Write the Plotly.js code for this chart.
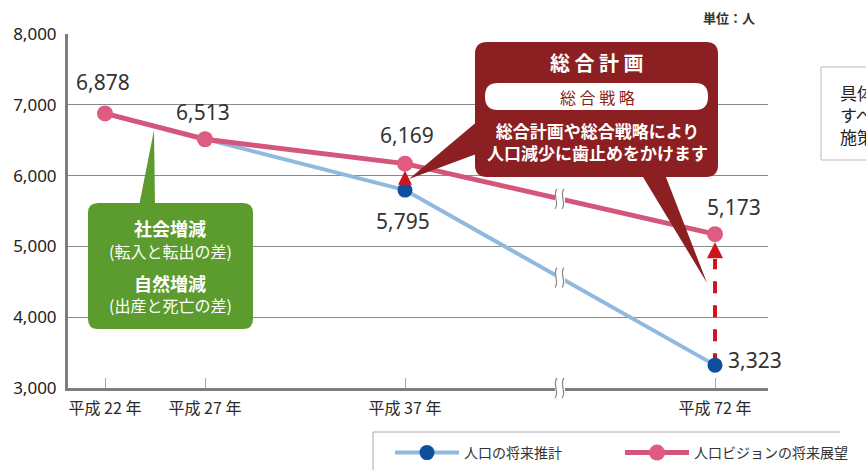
<!DOCTYPE html>
<html><head><meta charset="utf-8">
<script src="https://cdn.plot.ly/plotly-3.0.1.min.js"></script>
<style>html,body{margin:0;padding:0;background:#fff;}#chart{width:866px;height:470px;}</style>
</head><body><div id="chart"></div>
<script>
// ---- data ----
const years = [22, 27, 37, 72];
const tickLabels = ['平成 22 年', '平成 27 年', '平成 37 年', '平成 72 年'];
const projection = [6878, 6513, 5795, 3323];   // 人口の将来推計
const vision = [6878, 6513, 6169, 5173];       // 人口ビジョンの将来展望
const seriesNames = ['人口の将来推計', '人口ビジョンの将来展望'];
const yTicks = [3000, 4000, 5000, 6000, 7000, 8000];
const unitLabel = '単位：人';

// ---- broken x axis mapping ----
const BREAK_FROM = 37, COMPRESS = 15.5 / 35;
const toAxis = y => y <= BREAK_FROM ? y : BREAK_FROM + (y - BREAK_FROM) * COMPRESS;
const xs = years.map(toAxis);
const breakX = (xs[2] + xs[3]) / 2;
const XR = [20.15, 55.15], YR = [3000, 8000];

// pixel helpers for decorations (plot area px)
const L = 68, R = 768, T = 34, B = 388;
const fx = p => (p - L) / (R - L);
const fy = p => (B - p) / (B - T);
const P = (x, y) => fx(x).toFixed(5) + ',' + fy(y).toFixed(5);
function rrect(x0, y0, x1, y1, r) {
  return `M${P(x0 + r, y0)} L${P(x1 - r, y0)} Q${P(x1, y0)} ${P(x1, y0 + r)} L${P(x1, y1 - r)} Q${P(x1, y1)} ${P(x1 - r, y1)} L${P(x0 + r, y1)} Q${P(x0, y1)} ${P(x0, y1 - r)} L${P(x0, y0 + r)} Q${P(x0, y0)} ${P(x0 + r, y0)} Z`;
}
const interp = (arr, xv) => { const t = (xv - xs[2]) / (xs[3] - xs[2]); return arr[2] + (arr[3] - arr[2]) * t; };

const JP = '"Noto Sans CJK JP", "Noto Sans", sans-serif';
const NUM = '"Noto Sans", "DejaVu Sans", sans-serif';
const BLUE_LINE = '#8fb9df', BLUE_MK = '#0c4f9c', PINK_LINE = '#d4567a', PINK_MK = '#df5b82';
const GREEN = '#5c9b2e', DRED = '#8b1f22', RED = '#d0141c';

const traces = [
  { x: xs, y: projection, name: seriesNames[0], type: 'scatter', mode: 'lines+markers',
    line: { color: BLUE_LINE, width: 4 }, marker: { color: BLUE_MK, size: 15 }, hoverinfo: 'skip' },
  { x: xs, y: vision, name: seriesNames[1], type: 'scatter', mode: 'lines+markers',
    line: { color: PINK_LINE, width: 5 }, marker: { color: PINK_MK, size: 16 }, hoverinfo: 'skip' }
];

const fmt = v => v.toLocaleString('en-US');
const annotations = [];
function txt(x, y, text, size, color, extra) {
  annotations.push(Object.assign({ xref: 'paper', yref: 'paper', x: fx(x), y: fy(y), xanchor: 'center', yanchor: 'middle',
    text, showarrow: false, font: { family: JP, size, color } }, extra || {}));
}
// value labels
const labelSpec = [
  { s: 1, i: 0, dx: -2, dy: 31 }, { s: 1, i: 1, dx: -2, dy: 27 }, { s: 1, i: 2, dx: 2, dy: 29 },
  { s: 0, i: 2, dx: -2, dy: -31 }, { s: 1, i: 3, dx: 19, dy: 27 }
];
labelSpec.forEach(o => {
  const arr = o.s ? vision : projection;
  annotations.push({ x: xs[o.i], y: arr[o.i], xref: 'x', yref: 'y', text: fmt(arr[o.i]), showarrow: false,
    xanchor: 'center', yanchor: 'middle', xshift: o.dx, yshift: o.dy, font: { family: NUM, size: 21, color: '#333' } });
});
annotations.push({ x: xs[3], y: projection[3], xref: 'x', yref: 'y', text: fmt(projection[3]), showarrow: false,
  xanchor: 'left', yanchor: 'middle', xshift: 11, yshift: 5, font: { family: NUM, size: 21, color: '#333' } });

// unit label
txt(757, 17, '<b>' + unitLabel + '</b>', 13, '#333', { xanchor: 'right' });

// green callout texts
txt(170, 228, '<b>社会増減</b>', 18, '#fff');
txt(170, 251, '(転入と転出の差)', 16, '#fff');
txt(170, 283, '<b>自然増減</b>', 18, '#fff');
txt(170, 305, '(出産と死亡の差)', 16, '#fff');

// dark red callout texts
txt(597, 63, '<b>総 合 計 画</b>', 20, '#fff');
txt(597, 97, '総 合 戦 略', 16, DRED);
txt(597, 141, '<b>総合計画や総合戦略により<br>人口減少に歯止めをかけます</b>', 17, '#fff');

// right clipped box text
txt(838, 115, '具体的な<br>すべての<br>施策', 17, '#222', { xanchor: 'left', align: 'left' });

// red arrows
annotations.push({ x: xs[3], y: vision[3], xref: 'x', yref: 'y', ax: 0, ay: 24, axref: 'pixel', ayref: 'pixel',
  text: '', showarrow: true, arrowhead: 2, arrowsize: 0.8, arrowwidth: 4, arrowcolor: RED, standoff: 8 });
annotations.push({ x: xs[2], y: vision[2], xref: 'x', yref: 'y', ax: 0, ay: 22, axref: 'pixel', ayref: 'pixel',
  text: '', showarrow: true, arrowhead: 2, arrowsize: 0.8, arrowwidth: 3.5, arrowcolor: RED, standoff: 7 });

// break mark path (pixel offsets)
const gapPath = 'M -5 -10 L 5 -10 L 5 10 L -5 10 Z';
const sPath = 'M -5 -10 C 0 -4, -8 4, -3 10 M 2 -10 C 7 -4, -1 4, 4 10';
const shapes = [];
function breakMark(xref, yref, xa, ya) {
  shapes.push({ type: 'path', xref, yref, xsizemode: 'pixel', ysizemode: 'pixel', xanchor: xa, yanchor: ya,
    path: gapPath, fillcolor: '#fff', line: { width: 0 }, layer: 'above' });
  shapes.push({ type: 'path', xref, yref, xsizemode: 'pixel', ysizemode: 'pixel', xanchor: xa, yanchor: ya,
    path: sPath, line: { color: '#888', width: 1.2 }, layer: 'above' });
}
breakMark('x', 'y', breakX, interp(vision, breakX));
breakMark('x', 'y', breakX, interp(projection, breakX));
breakMark('paper', 'paper', (breakX - XR[0]) / (XR[1] - XR[0]), 0);

// dashed arrow shaft
shapes.push({ type: 'line', xref: 'x', yref: 'y', x0: xs[3], x1: xs[3], y0: projection[3], y1: vision[3] - 350,
  line: { color: RED, width: 4, dash: 'dash' }, layer: 'between' });

// green callout
shapes.push({ type: 'path', xref: 'paper', yref: 'paper', path: rrect(88, 203, 253, 329, 10), fillcolor: GREEN, line: { width: 0 }, layer: 'above' });
shapes.push({ type: 'path', xref: 'paper', yref: 'paper', path: `M${P(139, 206)} L${P(154, 130)} L${P(155, 206)} Z`, fillcolor: GREEN, line: { width: 0 }, layer: 'above' });
// dark red callout
shapes.push({ type: 'path', xref: 'paper', yref: 'paper', path: rrect(475, 42, 718, 177, 12), fillcolor: DRED, line: { width: 0 }, layer: 'above' });
shapes.push({ type: 'path', xref: 'paper', yref: 'paper', path: `M${P(479, 120)} L${P(409, 179)} L${P(479, 153)} Z`, fillcolor: DRED, line: { width: 0 }, layer: 'above' });
shapes.push({ type: 'path', xref: 'paper', yref: 'paper', path: `M${P(640, 172)} L${P(707, 283)} L${P(664, 172)} Z`, fillcolor: DRED, line: { width: 0 }, layer: 'above' });
shapes.push({ type: 'path', xref: 'paper', yref: 'paper', path: rrect(485, 83, 708, 110, 13), fillcolor: '#fff', line: { width: 0 }, layer: 'above' });
// right box
shapes.push({ type: 'rect', xref: 'paper', yref: 'paper', x0: fx(821), x1: fx(900), y0: fy(67), y1: fy(160), line: { color: '#bbb', width: 1 }, layer: 'above' });
// legend box borders
shapes.push({ type: 'line', xref: 'paper', yref: 'paper', x0: fx(373), x1: fx(840), y0: fy(432), y1: fy(432), line: { color: '#aaa', width: 1 } });
shapes.push({ type: 'line', xref: 'paper', yref: 'paper', x0: fx(373), x1: fx(373), y0: fy(432), y1: fy(475), line: { color: '#aaa', width: 1 } });

const layout = {
  width: 866, height: 470,
  margin: { l: L, r: 866 - R, t: T, b: 470 - B, autoexpand: false },
  paper_bgcolor: '#fff', plot_bgcolor: '#fff',
  showlegend: true,
  legend: { orientation: 'h', x: fx(390), y: fy(453), xanchor: 'left', yanchor: 'middle',
    font: { family: JP, size: 14, color: '#333' }, itemwidth: 64, entrywidth: 151, bgcolor: 'rgba(0,0,0,0)' },
  xaxis: { range: XR, tickmode: 'array', tickvals: xs, ticktext: tickLabels, ticks: 'inside', ticklen: 10,
    tickcolor: '#aaa', tickwidth: 1, showgrid: false, zeroline: false, showline: true, linecolor: '#7d7d7d', linewidth: 3,
    ticklabelstandoff: 4, tickfont: { family: JP, size: 16, color: '#2a2a2a' }, fixedrange: true },
  yaxis: { range: YR, tickmode: 'array', tickvals: yTicks, ticktext: yTicks.map(fmt), showgrid: true, gridcolor: '#8a8a8a',
    gridwidth: 1, zeroline: false, showline: true, linecolor: '#7d7d7d', linewidth: 3, ticks: '', ticklabelstandoff: 5,
    tickfont: { family: NUM, size: 17, color: '#222' }, fixedrange: true },
  shapes, annotations
};
Plotly.newPlot('chart', traces, layout, { displayModeBar: false, staticPlot: true });
</script></body></html>
